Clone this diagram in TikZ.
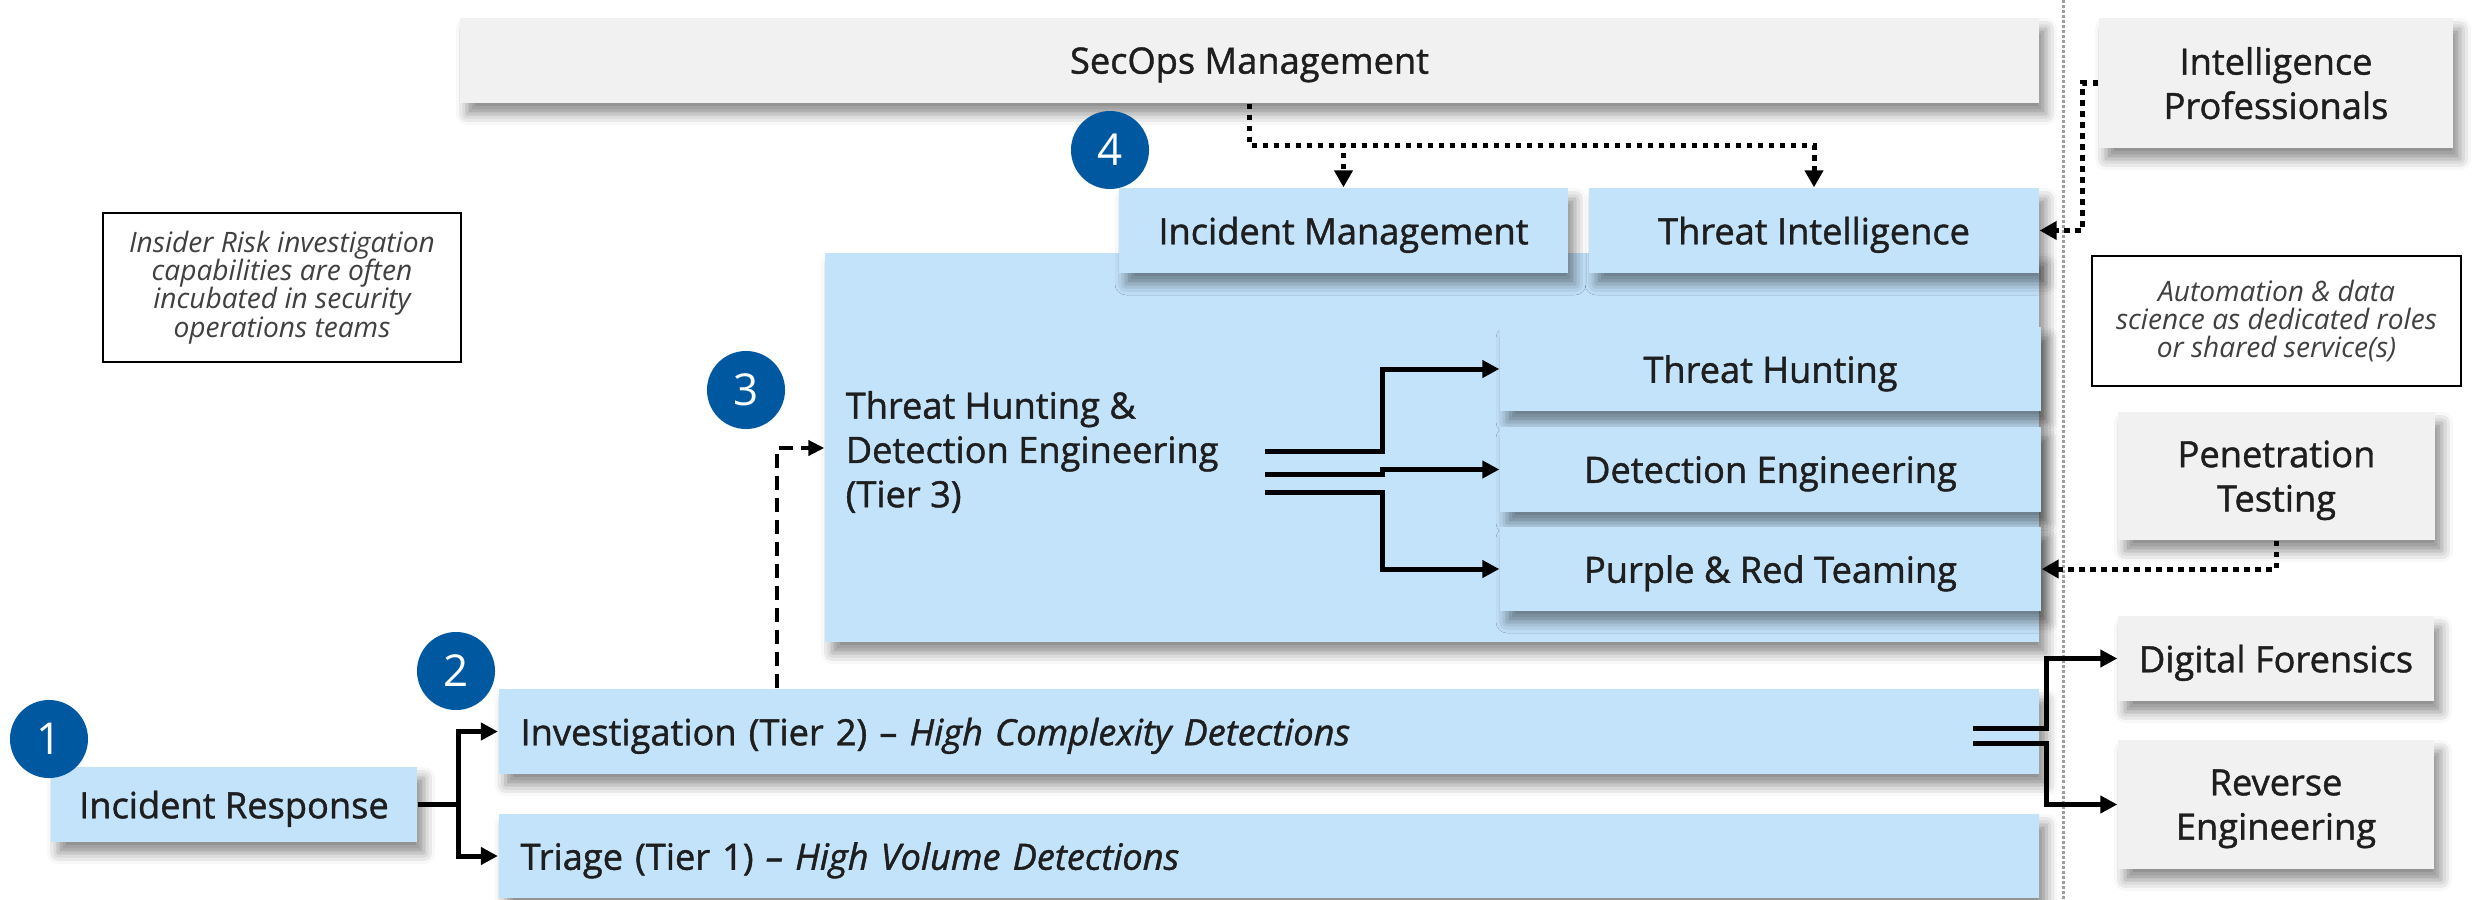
\documentclass[tikz,border=0pt]{standalone}
\usepackage{fontspec}
\setmainfont{Open Sans}
\newfontfamily\boxface{Open Sans}[Ligatures=TeX, FakeBold=1.2]
\usetikzlibrary{arrows.meta,shadows.blur,calc}

\definecolor{boxblue}{HTML}{C3E3FB}
\definecolor{boxgray}{HTML}{F1F1F1}
\definecolor{badge}{HTML}{0059A0}
\definecolor{ink}{HTML}{1E1E1E}
\definecolor{noteink}{HTML}{404040}
\definecolor{sepgray}{HTML}{9E9E9E}

\tikzset{
  wh/.style 2 args={minimum width=#1*0.01cm, minimum height=#2*0.01cm},
  softshadow/.style={blur shadow={shadow xshift=0.07cm, shadow yshift=-0.11cm,
      shadow blur radius=0.11cm, shadow opacity=45}},
  labelfont/.style={font=\boxface\fontsize{10.3}{12.6}\selectfont},
  bluebox/.style={softshadow, fill=boxblue, inner sep=0pt, text=ink, align=center,
      labelfont, text depth=0pt},
  graybox/.style={softshadow, fill=boxgray, inner sep=0pt, text=ink, align=center,
      labelfont, text depth=0pt},
  widebar/.style={bluebox, align=left, inner xsep=0.22cm},
  notebox/.style={draw=black, line width=0.6pt, fill=white, inner sep=0pt, align=center,
      text=noteink, font=\fontsize{8.0}{8.05}\selectfont\itshape},
  badgedot/.style={circle, fill=badge, inner sep=0pt, minimum size=0.78cm, text=white,
      font=\fontsize{12.5}{14}\selectfont},
  solidarrow/.style={draw=black, line width=0.05cm, -{Triangle[length=0.17cm,width=0.17cm]}},
  dotarrow/.style={draw=black, line width=0.05cm, dash pattern=on 0.055cm off 0.055cm,
      -{Triangle[length=0.17cm,width=0.18cm]}},
  dasharrow/.style={draw=black, line width=0.045cm, dash pattern=on 0.14cm off 0.08cm,
      -{Triangle[length=0.16cm,width=0.15cm]}},
  sepline/.style={draw=sepgray, line width=0.03cm, dash pattern=on 0.03cm off 0.02cm},
}

\begin{document}
\begin{tikzpicture}[x=0.01cm, y=-0.01cm]
\useasboundingbox (0,0) rectangle (2484,900);

% divider between the SOC and the supporting functions
\draw[sepline] (2063,0) -- (2063,900);

% management layer
\node[graybox, wh={1579}{85}] (secops) at (1249.5,60.5) {SecOps Management};

% tier 3 container
\node[bluebox, wh={1214}{389}] (big) at (1432,447.5) {};
\node[anchor=west, align=left, text=ink, labelfont, inner sep=0pt] (t3) at (845,452)
  {Threat Hunting \&\\Detection Engineering\\(Tier 3)};

\node[bluebox, wh={449}{85}] (im) at (1343.5,230.5) {Incident Management};
\node[bluebox, wh={450}{85}] (ti) at (1814,230.5) {Threat Intelligence};

\node[bluebox, wh={541}{84}] (th) at (1770.5,369) {Threat Hunting};
\node[bluebox, wh={541}{85}] (de) at (1770.5,469.5) {Detection Engineering};
\node[bluebox, wh={541}{84}] (pr) at (1770.5,569) {Purple \& Red Teaming};

% tiers 1 and 2
\node[widebar, minimum width=15.4cm, text width=14.96cm, minimum height=0.85cm] (inv) at (1269,731.5)
  {Investigation (Tier 2) – \textit{High Complexity Detections}};
\node[widebar, minimum width=15.4cm, text width=14.96cm, minimum height=0.84cm] (tri) at (1269,856)
  {Triage (Tier 1) \textit{– High Volume Detections}};

\node[bluebox, wh={366}{75}] (ir) at (234,804.5) {Incident Response};

% supporting functions
\node[graybox, wh={354}{130}] (intel) at (2276,83) {Intelligence\\Professionals};
\node[graybox, wh={317}{128}] (pen) at (2276.5,476) {Penetration\\Testing};
\node[graybox, wh={316}{85}] (df) at (2276,658.5) {Digital Forensics};
\node[graybox, wh={316}{129}] (re) at (2276,804.5) {Reverse\\Engineering};

% side notes
\node[notebox, wh={358}{149}] (insider) at (282,287.5)
  {Insider Risk investigation\\capabilities are often\\incubated in security\\operations teams};
\node[notebox, wh={369}{130}] (auto) at (2276.5,321)
  {Automation \& data\\science as dedicated roles\\or shared service(s)};

% connectors
\draw[solidarrow] (ir.east) -- ++(41,0) |- (inv.west);
\draw[solidarrow] (ir.east) -- ++(41,0) |- (tri.west);

\coordinate (k3) at (777,448);
\draw[dasharrow] (inv.north -| k3) |- (big.west |- k3);

\draw[dotarrow] (secops.south) -- ++(0,42) -| (im.north);
\draw[dotarrow] (secops.south) -- ++(0,42) -| (ti.north);
\draw[dotarrow] (intel.west) -- ++(-16,0) |- (ti.east);
\draw[dotarrow] (pen.south) |- (pr.east);

\coordinate (s1) at (1265,451);
\coordinate (s2) at (1265,474);
\coordinate (s3) at (1265,492);
\draw[solidarrow] (s1) -| ($(th.west)+(-117,0)$) -- (th.west);
\draw[solidarrow] (s2) -| ($(de.west)+(-117,0)$) -- (de.west);
\draw[solidarrow] (s3) -| ($(pr.west)+(-117,0)$) -- (pr.west);

\coordinate (r1) at (1973,728);
\coordinate (r2) at (1973,743);
\draw[solidarrow] (r1) -| ($(df.west)+(-71,0)$) -- (df.west);
\draw[solidarrow] (r2) -| ($(re.west)+(-71,0)$) -- (re.west);

% step badges
\node[badgedot] (b1) at (49,739) {1};
\node[badgedot] (b2) at (456,671) {2};
\node[badgedot] (b3) at (746,390) {3};
\node[badgedot] (b4) at (1110,150) {4};
\end{tikzpicture}
\end{document}
